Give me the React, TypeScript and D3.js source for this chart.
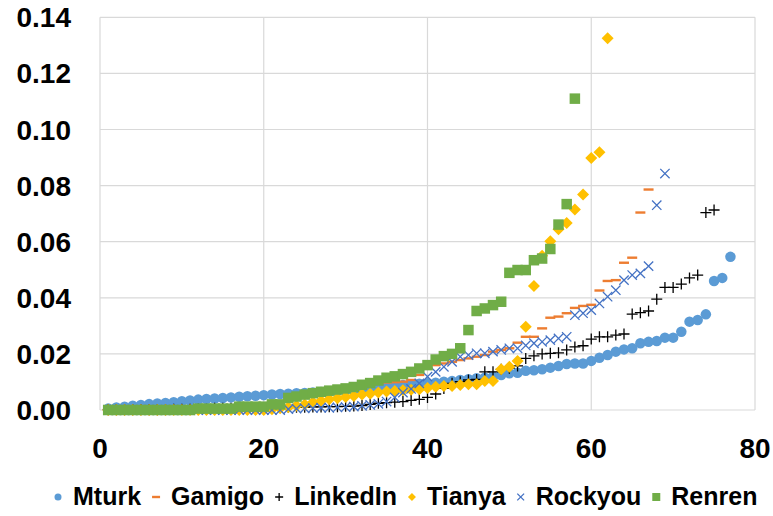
import React, { useLayoutEffect, useRef, useState } from 'react';
import * as d3 from 'd3';

const xTicks = [0, 20, 40, 60, 80];
const yTicks = [0, 0.02, 0.04, 0.06, 0.08, 0.1, 0.12, 0.14];
const seriesNames = ['Mturk', 'Gamigo', 'LinkedIn', 'Tianya', 'Rockyou', 'Renren'];

const mturk = [
  0.0005, 0.0009, 0.0012, 0.0015, 0.0018, 0.0021, 0.0023, 0.0025, 0.0028, 0.0031,
  0.0034, 0.0037, 0.0039, 0.0041, 0.0043, 0.0045, 0.0047, 0.0049, 0.0051, 0.0053,
  0.0055, 0.0057, 0.0058, 0.0060, 0.0061, 0.0062, 0.0064, 0.0066, 0.0068, 0.0070,
  0.0072, 0.0074, 0.0077, 0.0080, 0.0083, 0.0086, 0.0089, 0.0092, 0.0094, 0.0095,
  0.0097, 0.0101, 0.0103, 0.0107, 0.0110, 0.0113, 0.0115, 0.0119, 0.0125, 0.0131,
  0.0133, 0.0140, 0.0142, 0.0145, 0.0151, 0.0157, 0.0164, 0.0166, 0.0166, 0.0175,
  0.0186, 0.0196, 0.0208, 0.0216, 0.0220, 0.0238, 0.0243, 0.0246, 0.0258, 0.0258,
  0.0279, 0.0315, 0.0321, 0.0341, 0.0460, 0.0471, 0.0546,
];

const gamigo = [
  0, 0, 0, 0, 0, 0, 0, 0, 0, 0,
  0, 0.0004, 0.0004, 0.0004, 0.0004, 0.0004, 0.0010, 0.0010, 0.0010, 0.0010,
  0.0016, 0.0018, 0.0038, 0.0044, 0.0050, 0.0056, 0.0060, 0.0064, 0.0068, 0.0072,
  0.0078, 0.0085, 0.0090, 0.0095, 0.0098, 0.0099, 0.0101, 0.0107, 0.0125, 0.0150,
  0.0160, 0.0166, 0.0172, 0.0178, 0.0184, 0.0190, 0.0196, 0.0208, 0.0214, 0.0220,
  0.0240, 0.0261, 0.0261, 0.0291, 0.0329, 0.0333, 0.0345, 0.0364, 0.0371, 0.0375,
  0.0426, 0.0460, 0.0463, 0.0525, 0.0543, 0.0704, 0.0786,
];

const linkedin = [
  0.0001, 0.0001, 0.0001, 0.0001, 0.0001, 0.0001, 0.0001, 0.0001, 0.0003, 0.0003,
  0.0003, 0.0003, 0.0003, 0.0006, 0.0006, 0.0006, 0.0007, 0.0008, 0.0008, 0.0008,
  0.0008, 0.0009, 0.0010, 0.0010, 0.0010, 0.0011, 0.0011, 0.0012, 0.0012, 0.0013,
  0.0014, 0.0016, 0.0020, 0.0024, 0.0026, 0.0028, 0.0030, 0.0034, 0.0038, 0.0045,
  0.0057, 0.0077, 0.0095, 0.0101, 0.0107, 0.0109, 0.0136, 0.0136, 0.0145, 0.0149,
  0.0157, 0.0184, 0.0193, 0.0200, 0.0202, 0.0204, 0.0214, 0.0225, 0.0229, 0.0253,
  0.0261, 0.0261, 0.0267, 0.0271, 0.0342, 0.0347, 0.0353, 0.0395, 0.0437, 0.0437,
  0.0449, 0.0471, 0.0481, 0.0704, 0.0713,
];

const tianya = [
  0, 0, 0, 0, 0, 0, 0, 0, 0, 0,
  0, 0, 0, 0, 0, 0, 0, 0, 0, 0,
  0.0003, 0.0006, 0.0010, 0.0015, 0.0020, 0.0028, 0.0033, 0.0038, 0.0042, 0.0046,
  0.0050, 0.0055, 0.0058, 0.0062, 0.0066, 0.0068, 0.0070, 0.0072, 0.0074, 0.0078,
  0.0083, 0.0086, 0.0086, 0.0089, 0.0092, 0.0092, 0.0103, 0.0103, 0.0145, 0.0154,
  0.0175, 0.0297, 0.0442, 0.0550, 0.0602, 0.0644, 0.0667, 0.0715, 0.0768, 0.0898,
  0.0919, 0.1325,
];

const rockyou = [
  0, 0, 0, 0, 0, 0, 0, 0, 0, 0,
  0, 0, 0, 0, 0, 0, 0, 0, 0, 0,
  0, 0, 0.0003, 0.0005, 0.0006, 0.0007, 0.0008, 0.0008, 0.0009, 0.0010,
  0.0012, 0.0015, 0.0018, 0.0022, 0.0030, 0.0045, 0.0062, 0.0075, 0.0095, 0.0119,
  0.0136, 0.0154, 0.0172, 0.0190, 0.0196, 0.0202, 0.0202, 0.0208, 0.0214, 0.0220,
  0.0220, 0.0230, 0.0238, 0.0243, 0.0249, 0.0255, 0.0261, 0.0338, 0.0345, 0.0356,
  0.0380, 0.0404, 0.0427, 0.0463, 0.0481, 0.0487, 0.0513, 0.0730, 0.0843,
];

const renren = [
  0, 0, 0, 0, 0, 0, 0, 0, 0, 0,
  0, 0.0005, 0.0005, 0.0005, 0.0005, 0.0005, 0.0012, 0.0012, 0.0012, 0.0012,
  0.0020, 0.0020, 0.0043, 0.0048, 0.0055, 0.0060, 0.0065, 0.0069, 0.0073, 0.0077,
  0.0082, 0.0090, 0.0096, 0.0105, 0.0115, 0.0120, 0.0128, 0.0136, 0.0148, 0.0160,
  0.0180, 0.0192, 0.0200, 0.0220, 0.0285, 0.0353, 0.0362, 0.0374, 0.0386, 0.0489,
  0.0499, 0.0499, 0.0534, 0.0540, 0.0574, 0.0661, 0.0734, 0.1110,
];

const seriesData = [mturk, gamigo, linkedin, tianya, rockyou, renren];
const colors = ['#5B9BD5', '#ED7D31', '#000000', '#FFC000', '#4472C4', '#70AD47'];
const kinds = ['circle', 'dash', 'plus', 'diamond', 'x', 'square'];

function Marker({ kind, cx, cy, color, s }: { kind: string; cx: number; cy: number; color: string; s: number }) {
  const h = s / 2;
  switch (kind) {
    case 'circle':
      return <circle cx={cx} cy={cy} r={h} fill={color} />;
    case 'dash':
      return <rect x={cx - h} y={cy - 1.2} width={s} height={2.4} fill={color} />;
    case 'plus':
      return (
        <path
          d={`M${cx - h},${cy}H${cx + h}M${cx},${cy - h}V${cy + h}`}
          stroke={color}
          strokeWidth={1.3}
          fill="none"
        />
      );
    case 'diamond':
      return <path d={`M${cx},${cy - h}L${cx + h},${cy}L${cx},${cy + h}L${cx - h},${cy}Z`} fill={color} />;
    case 'x': {
      const k = h * 0.85;
      return (
        <path
          d={`M${cx - k},${cy - k}L${cx + k},${cy + k}M${cx - k},${cy + k}L${cx + k},${cy - k}`}
          stroke={color}
          strokeWidth={1.3}
          fill="none"
        />
      );
    }
    default:
      return <rect x={cx - h} y={cy - h} width={s} height={s} fill={color} />;
  }
}

export default function App() {
  const W = 773;
  const H = 516;
  const x = d3.scaleLinear().domain([0, 80]).range([100, 755]);
  const y = d3.scaleLinear().domain([0, 0.14]).range([410, 17.3]);
  const font = '"Liberation Sans", Arial, sans-serif';
  const plotSizes = [10.5, 10, 11, 12, 11, 10.5];
  const legendFont = 25;

  const textRefs = useRef<(SVGTextElement | null)[]>([]);
  const [widths, setWidths] = useState<number[]>(seriesNames.map((n) => n.length * 15));

  useLayoutEffect(() => {
    const w = textRefs.current.map((el, i) => (el ? el.getComputedTextLength() : widths[i]));
    if (w.some((v, i) => Math.abs(v - widths[i]) > 0.5)) setWidths(w);
  }, []);

  const startText = 73;
  const markerGapBefore = 15;
  const markerGapAfter = 15;
  const textX: number[] = [];
  const markX: number[] = [];
  {
    let cur = startText;
    for (let i = 0; i < seriesNames.length; i++) {
      markX.push(cur - markerGapAfter);
      textX.push(cur);
      cur += widths[i] + markerGapBefore + markerGapAfter;
    }
  }

  return (
    <svg width={W} height={H} style={{ position: 'absolute', left: 0, top: 0, background: '#fff' }}>
      <rect x={0} y={0} width={W} height={H} fill="#fff" />
      {yTicks.map((t) => (
        <line key={'gy' + t} x1={x(0)} x2={x(80)} y1={y(t)} y2={y(t)} stroke="#D9D9D9" strokeWidth={1.2} />
      ))}
      {xTicks.map((t) => (
        <line key={'gx' + t} x1={x(t)} x2={x(t)} y1={y(0)} y2={y(0.14)} stroke="#D9D9D9" strokeWidth={1.2} />
      ))}
      {yTicks.map((t) => (
        <text
          key={'ly' + t}
          x={71}
          y={y(t)}
          dy="0.36em"
          textAnchor="end"
          fontFamily={font}
          fontWeight="bold"
          fontSize={28}
          fill="#000"
        >
          {t.toFixed(2)}
        </text>
      ))}
      {xTicks.map((t) => (
        <text
          key={'lx' + t}
          x={x(t)}
          y={458}
          textAnchor="middle"
          fontFamily={font}
          fontWeight="bold"
          fontSize={28}
          fill="#000"
        >
          {t}
        </text>
      ))}
      {seriesData.map((arr, si) => (
        <g key={'s' + si}>
          {arr.map((v, i) => (
            <Marker key={i} kind={kinds[si]} cx={x(i + 1)} cy={y(v)} color={colors[si]} s={plotSizes[si]} />
          ))}
        </g>
      ))}
      {seriesNames.map((n, si) => (
        <g key={'lg' + si}>
          <Marker kind={kinds[si]} cx={markX[si]} cy={497} color={colors[si]} s={si === 0 ? 7 : 8} />
          <text
            ref={(el) => {
              textRefs.current[si] = el;
            }}
            x={textX[si]}
            y={505}
            fontFamily={font}
            fontWeight="bold"
            fontSize={legendFont}
            fill="#000"
          >
            {n}
          </text>
        </g>
      ))}
    </svg>
  );
}
